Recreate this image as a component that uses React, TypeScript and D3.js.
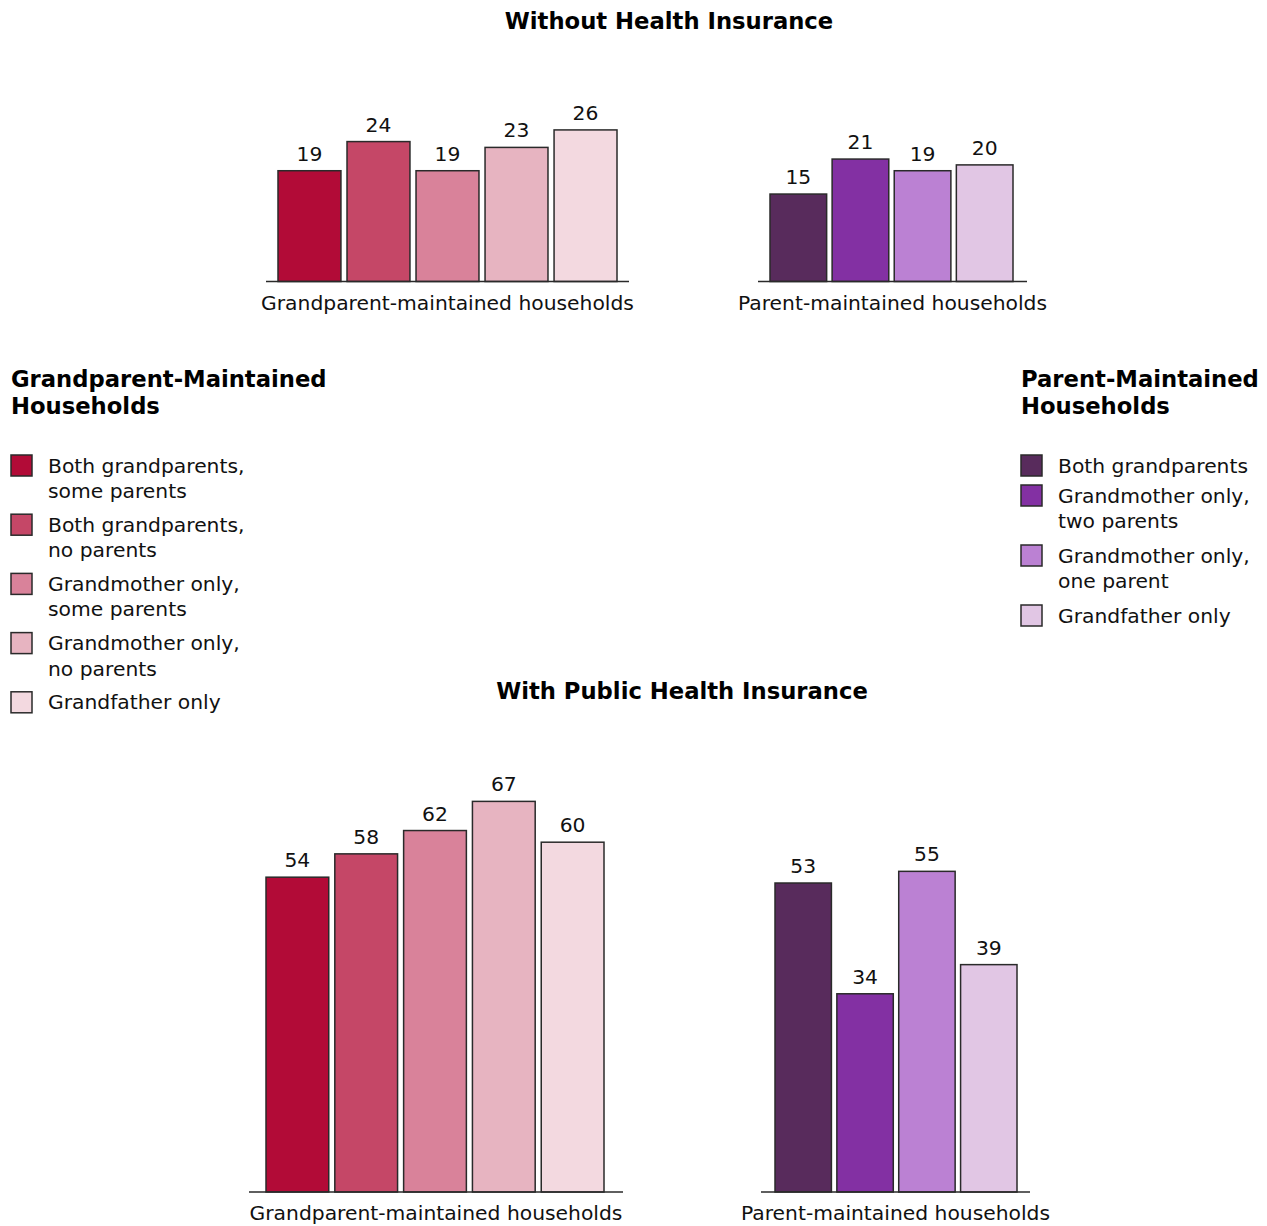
import React from "react";
import * as d3 from "d3";

// Household types and their colours
const gpCategories = [
  "Both grandparents, some parents",
  "Both grandparents, no parents",
  "Grandmother only, some parents",
  "Grandmother only, no parents",
  "Grandfather only",
];
const gpLegendLines = [
  ["Both grandparents,", "some parents"],
  ["Both grandparents,", "no parents"],
  ["Grandmother only,", "some parents"],
  ["Grandmother only,", "no parents"],
  ["Grandfather only"],
];
const gpColors = ["#B20B37", "#C54767", "#D9829A", "#E7B4C1", "#F3D9E0"];

const pCategories = [
  "Both grandparents",
  "Grandmother only, two parents",
  "Grandmother only, one parent",
  "Grandfather only",
];
const pLegendLines = [
  ["Both grandparents"],
  ["Grandmother only,", "two parents"],
  ["Grandmother only,", "one parent"],
  ["Grandfather only"],
];
const pColors = ["#582B5C", "#8330A3", "#BB81D3", "#E1C6E4"];

// Percentages
const gpUninsured = [19, 24, 19, 23, 26];
const pUninsured = [15, 21, 19, 20];
const gpPublic = [54, 58, 62, 67, 60];
const pPublic = [53, 34, 55, 39];

const FONT = "'DejaVu Sans', sans-serif";
const INK = "#111";
const STROKE = "#2a2a2a";
const PX_PER_UNIT = 5.83;
const TEXT_SIZE = 20.3;
const BOLD_SIZE = 22.7;

type PanelProps = {
  categories: string[];
  values: number[];
  colors: string[];
  barRange: [number, number];
  axisRange: [number, number];
  baseline: number;
  label: string;
};

function Panel({ categories, values, colors, barRange, axisRange, baseline, label }: PanelProps) {
  const x = d3.scaleBand<string>().domain(categories).range(barRange).paddingInner(0.088).paddingOuter(0);
  const y = d3.scaleLinear().domain([0, 100]).range([baseline, baseline - 100 * PX_PER_UNIT]);
  const cx = (axisRange[0] + axisRange[1]) / 2;
  return (
    <g>
      {categories.map((c, i) => (
        <g key={c}>
          <rect
            x={x(c)!}
            y={y(values[i])}
            width={x.bandwidth()}
            height={y(0) - y(values[i])}
            fill={colors[i]}
            stroke={STROKE}
            strokeWidth={1.5}
          />
          <text
            x={x(c)! + x.bandwidth() / 2}
            y={y(values[i]) - 10}
            textAnchor="middle"
            fontFamily={FONT}
            fontSize={TEXT_SIZE}
            fill={INK}
          >
            {values[i]}
          </text>
        </g>
      ))}
      <line x1={axisRange[0]} x2={axisRange[1]} y1={baseline} y2={baseline} stroke={STROKE} strokeWidth={1.5} />
      <text x={cx} y={baseline + 28} textAnchor="middle" fontFamily={FONT} fontSize={TEXT_SIZE} fill={INK}>
        {label}
      </text>
    </g>
  );
}

type LegendProps = {
  x: number;
  titleY: number;
  title: string[];
  lines: string[][];
  colors: string[];
  top: number;
  step: number;
};

function Legend({ x, titleY, title, lines, colors, top, step }: LegendProps) {
  let cursor = top;
  const items = lines.map((ls, i) => {
    const y0 = cursor;
    cursor += ls.length * step;
    return (
      <g key={i}>
        <rect x={x} y={y0} width={21} height={21} fill={colors[i]} stroke={STROKE} strokeWidth={1.5} />
        {ls.map((t, j) => (
          <text key={j} x={x + 37} y={y0 + 17.5 + j * 25.5} fontFamily={FONT} fontSize={TEXT_SIZE} fill={INK}>
            {t}
          </text>
        ))}
      </g>
    );
  });
  return (
    <g>
      {title.map((t, j) => (
        <text key={j} x={x} y={titleY + j * 27} fontFamily={FONT} fontWeight="bold" fontSize={BOLD_SIZE} fill="#000">
          {t}
        </text>
      ))}
      {items}
    </g>
  );
}

export default function App() {
  return (
    <svg
      width={1267}
      height={1226}
      style={{ position: "absolute", left: 0, top: 0, background: "#fff" }}
    >
      <text x={669} y={29} textAnchor="middle" fontFamily={FONT} fontWeight="bold" fontSize={BOLD_SIZE} fill="#000">
        Without Health Insurance
      </text>
      <Panel
        categories={gpCategories}
        values={gpUninsured}
        colors={gpColors}
        barRange={[278, 617]}
        axisRange={[266, 629]}
        baseline={281.5}
        label="Grandparent-maintained households"
      />
      <Panel
        categories={pCategories}
        values={pUninsured}
        colors={pColors}
        barRange={[770, 1013]}
        axisRange={[758, 1027]}
        baseline={281.5}
        label="Parent-maintained households"
      />

      <Legend
        x={11}
        titleY={387}
        title={["Grandparent-Maintained", "Households"]}
        lines={gpLegendLines}
        colors={gpColors}
        top={455}
        step={29.6}
      />
      <Legend
        x={1021}
        titleY={387}
        title={["Parent-Maintained", "Households"]}
        lines={pLegendLines}
        colors={pColors}
        top={455}
        step={30}
      />

      <text x={682} y={699} textAnchor="middle" fontFamily={FONT} fontWeight="bold" fontSize={BOLD_SIZE} fill="#000">
        With Public Health Insurance
      </text>
      <Panel
        categories={gpCategories}
        values={gpPublic}
        colors={gpColors}
        barRange={[266, 604]}
        axisRange={[249, 623]}
        baseline={1192}
        label="Grandparent-maintained households"
      />
      <Panel
        categories={pCategories}
        values={pPublic}
        colors={pColors}
        barRange={[775, 1017]}
        axisRange={[761, 1030]}
        baseline={1192}
        label="Parent-maintained households"
      />
    </svg>
  );
}
